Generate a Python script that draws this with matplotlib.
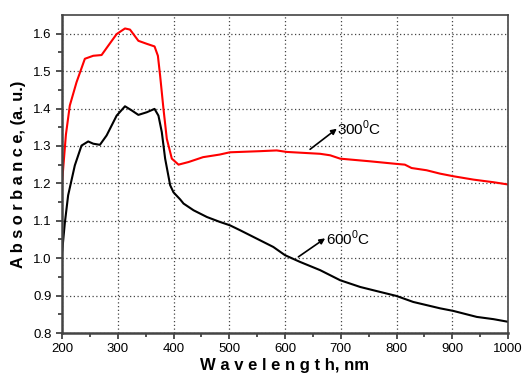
import numpy as np
import matplotlib.pyplot as plt

plt.rcParams['font.family'] = ['Liberation Sans', 'DejaVu Sans']
plt.rcParams['mathtext.fontset'] = 'custom'
plt.rcParams['mathtext.rm'] = 'Liberation Sans'

# wavelength (nm) and absorbance
wl_300 = [200, 207, 214, 226, 241, 256, 271, 283, 298, 313, 322, 337, 352, 366, 372,
          376, 382, 388, 397, 409, 427, 453, 483, 501, 555, 585, 603, 663, 681, 699,
          752, 800, 815, 827, 854, 878, 902, 938, 974, 1000]
abs_300 = [1.200, 1.330, 1.408, 1.470, 1.533, 1.541, 1.543, 1.568, 1.599, 1.614, 1.611,
           1.581, 1.573, 1.566, 1.541, 1.488, 1.399, 1.319, 1.266, 1.250, 1.257, 1.270,
           1.277, 1.283, 1.286, 1.288, 1.284, 1.279, 1.275, 1.266, 1.259, 1.252, 1.250,
           1.241, 1.235, 1.226, 1.219, 1.210, 1.203, 1.197]

wl_600 = [200, 205, 211, 223, 235, 247, 256, 268, 280, 298, 313, 325, 337, 352, 366,
          373, 379, 385, 394, 400, 412, 418, 436, 460, 483, 501, 519, 555, 579, 600,
          627, 663, 699, 735, 770, 800, 830, 878, 902, 944, 974, 1000]
abs_600 = [1.013, 1.093, 1.168, 1.248, 1.301, 1.312, 1.306, 1.303, 1.328, 1.381, 1.406,
           1.395, 1.383, 1.390, 1.399, 1.381, 1.337, 1.266, 1.195, 1.176, 1.157, 1.146,
           1.128, 1.110, 1.097, 1.088, 1.075, 1.048, 1.030, 1.008, 0.990, 0.968, 0.941,
           0.923, 0.910, 0.899, 0.883, 0.866, 0.859, 0.843, 0.837, 0.830]

fig = plt.figure(figsize=(5.23, 3.79), dpi=100)
ax = fig.add_axes([62/523, 1 - 333/379, 446/523, 318/379])

ax.plot(wl_300, abs_300, color='#ff0000', lw=1.5)
ax.plot(wl_600, abs_600, color='black', lw=1.5)

ax.set_xlim(200, 1000)
ax.set_ylim(0.8, 1.65)
ax.set_xticks(np.arange(200, 1001, 100))
ax.set_xticks(np.arange(250, 1000, 100), minor=True)
ax.set_yticks(np.arange(0.8, 1.61, 0.1))
ax.set_yticks(np.arange(0.85, 1.65, 0.1), minor=True)
ax.yaxis.set_major_formatter(plt.FuncFormatter(lambda v, p: f'{v:.1f}'))

ax.tick_params(which='both', direction='out', top=False, right=False,
               labelsize=9.5, color='#333333', width=1.2)
ax.tick_params(which='major', length=4)
ax.tick_params(which='minor', length=3)
ax.grid(True, which='major', ls=(0, (1, 2)), color='#444444', lw=0.9)

for side in ['left', 'bottom']:
    ax.spines[side].set_linewidth(1.8)
    ax.spines[side].set_color('#444444')
for side in ['top', 'right']:
    ax.spines[side].set_linewidth(1.2)
    ax.spines[side].set_color('#444444')

ax.set_xlabel('W a v e l e n g t h, nm', fontsize=12, fontweight='bold', labelpad=2)
ax.set_ylabel('A b s o r b a n c e, (a. u.)', fontsize=11.8, fontweight='bold', labelpad=5)

arrow = dict(arrowstyle='-|>', color='black', lw=1.2, mutation_scale=8,
             shrinkA=0, shrinkB=0)
ax.annotate('', xy=(693, 1.346), xytext=(645, 1.291), arrowprops=arrow)
ax.text(694, 1.346, '300$^{\\rm 0}$C', fontsize=11, va='center', ha='left')

ax.annotate('', xy=(672, 1.053), xytext=(624, 1.0035), arrowprops=arrow)
ax.text(673, 1.053, '600$^{\\rm 0}$C', fontsize=11, va='center', ha='left')

fig.savefig('out.png', dpi=100)
